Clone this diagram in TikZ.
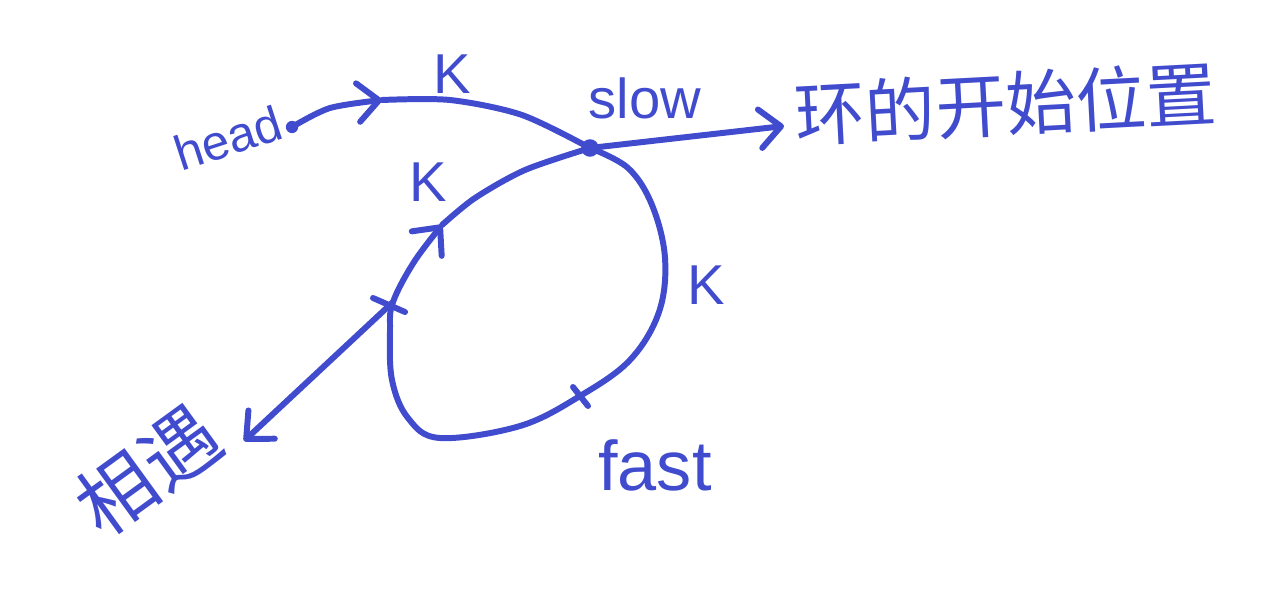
\documentclass[tikz,border=0pt]{standalone}
\usepackage{fontspec}
\setmainfont{Liberation Sans}
\newfontfamily\cjk{Noto Sans CJK SC}
\usetikzlibrary{arrows.meta,calc}
\definecolor{ink}{RGB}{64,75,205}
\tikzset{
  pen/.style={ink,line width=3.4pt,line cap=round,line join=round},
  barb/.style={-{Straight Barb[round,length=12pt,width=22pt]}},
  lbl/.style={ink,inner sep=0pt,font=\fontsize{32}{32}\selectfont},
  hanzi/.style={ink,inner sep=0pt,font=\cjk\fontsize{40}{40}\selectfont},
}
\begin{document}
\begin{tikzpicture}[x=0.02cm,y=-0.02cm]
\useasboundingbox (0,0) rectangle (1284,588);
        \node[lbl,font=\fontsize{28}{28}\selectfont,rotate=18](head)at(228,138){head};
        \node[circle,fill=ink,inner sep=0pt,minimum size=7pt](hdot)at(292,127){};
        \node[lbl](slowlbl)at(645,98){slow};
        \node[lbl](k1)at(452,74){K};
        \node[lbl](k2)at(428,182){K};
        \node[lbl](k3)at(706,285){K};
        \node[lbl,font=\fontsize{40}{40}\selectfont](fastlbl)at(655,465){fast};
        \node[hanzi,anchor=west,rotate=3](start)at(795,115){环的开始位置};
        \node[hanzi,font=\cjk\fontsize{44}{44}\selectfont,rotate=36](meet)at(148,470){相遇};

        \node[circle,fill=ink,inner sep=0pt,minimum size=10pt](slow)at(590,148){};
        \coordinate(mid1)at(382,100);
        \coordinate(mid2)at(442,225);
        \coordinate(tickA)at(393,302);
        \coordinate(tickB)at(580,396);
        \coordinate(startend)at(784,126);
        \coordinate(meetend)at(244,441);

        \draw[pen,barb]plot[smooth]coordinates{(hdot)(330,108)(mid1)};
        \draw[pen]plot[smooth]coordinates{(mid1)(450,100)(522,115)(slow)};
        \draw[pen,barb](slow.center)--(startend);

        \draw[pen,barb]plot[smooth,tension=0.6]coordinates{(slow.center)(628,168)(652,205)(665,258)(659,312)(630,360)(tickB)(520,426)(440,438)(408,418)(392,380)(390,330)(tickA)(414,262)(mid2)};
        \draw[pen]plot[smooth]coordinates{(mid2)(475,198)(525,170)(slow.center)};
        \draw[pen]($(tickA)+(-20,-4)$)--($(tickA)+(12,10)$);
        \draw[pen]($(tickB)+(-7,-9)$)--($(tickB)+(8,10)$);

        \draw[pen,barb](tickA)--(meetend);
\end{tikzpicture}
\end{document}
